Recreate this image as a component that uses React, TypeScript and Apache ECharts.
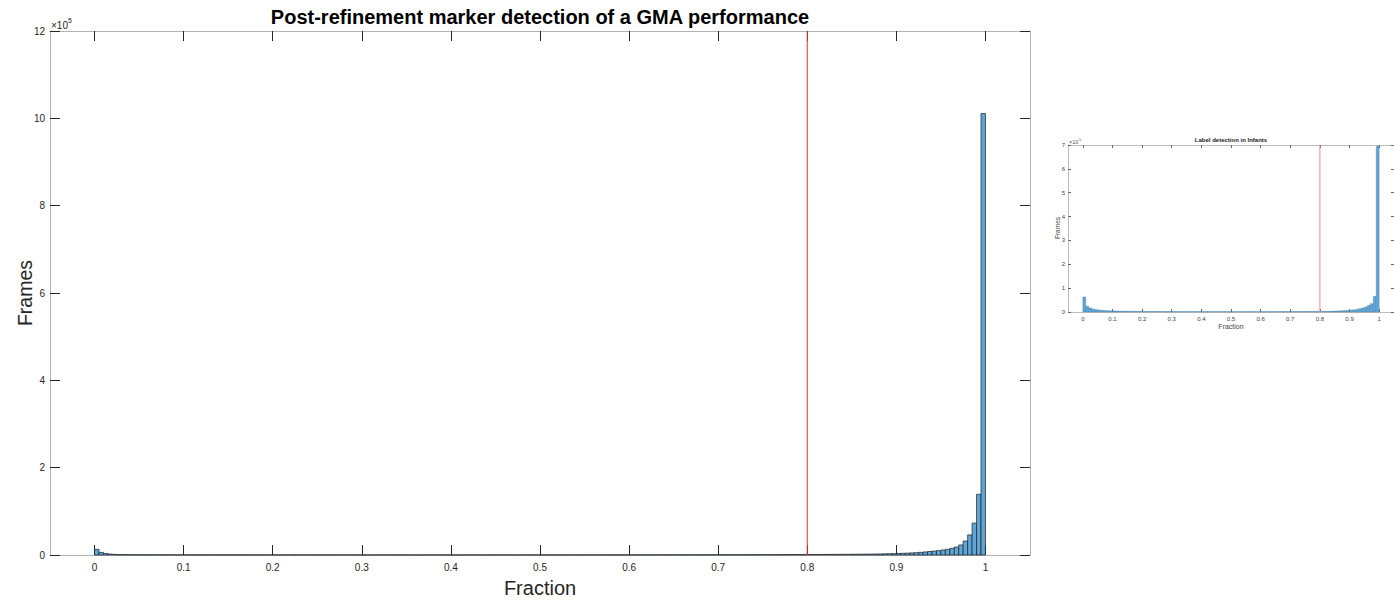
import React, { useEffect, useRef } from "react";
import * as echarts from "echarts";

const FONT = "Liberation Sans, Arial, Helvetica, sans-serif";

// Main histogram: 200 bins of width 0.005 from 0 to 1 (frame counts)
const MAIN_BIN_WIDTH = 0.005;
const MAIN_COUNTS = [
  13000, 6000, 3500, 2200, 1500, 1100, 900, 760, 660, 600,
  550, 520, 500, 480, 460, 450, 440, 430, 420, 410,
  400, 395, 390, 385, 380, 378, 375, 370, 368, 365,
  362, 360, 358, 355, 352, 350, 348, 346, 344, 342,
  340, 338, 336, 334, 333, 332, 330, 329, 328, 327,
  326, 325, 324, 323, 322, 321, 320, 320, 319, 318,
  318, 317, 316, 316, 315, 315, 314, 314, 313, 313,
  312, 312, 312, 311, 311, 311, 310, 310, 310, 310,
  310, 310, 311, 311, 311, 312, 312, 313, 313, 314,
  314, 315, 316, 317, 318, 319, 320, 321, 322, 323,
  325, 327, 329, 331, 333, 335, 337, 340, 343, 346,
  349, 352, 355, 359, 363, 367, 371, 376, 381, 386,
  391, 397, 403, 410, 417, 424, 432, 440, 449, 458,
  468, 478, 489, 500, 512, 525, 538, 552, 567, 582,
  598, 615, 633, 652, 672, 693, 715, 738, 762, 787,
  813, 840, 868, 897, 927, 958, 990, 1020, 1050, 1110,
  1150, 1190, 1230, 1280, 1330, 1380, 1440, 1500, 1570, 1640,
  1720, 1800, 1900, 2000, 2150, 2300, 2500, 2700, 2900, 3200,
  3500, 3900, 4300, 4800, 5400, 6100, 7000, 8000, 9000, 10000,
  11500, 13000, 15300, 18300, 23000, 32000, 46000, 73000, 139000, 1011000,
];

// Inset histogram: 100 bins of width 0.01 from 0 to 1
const INSET_BIN_WIDTH = 0.01;
const INSET_COUNTS = [
  63000, 24000, 17000, 12500, 10000, 8500, 7200, 6300, 5600, 5000,
  4600, 4200, 3900, 3600, 3400, 3200, 3000, 2850, 2700, 2600,
  2500, 2420, 2350, 2290, 2230, 2180, 2130, 2090, 2050, 2010,
  1980, 1950, 1920, 1900, 1880, 1860, 1840, 1820, 1810, 1800,
  1790, 1780, 1770, 1760, 1755, 1750, 1745, 1740, 1738, 1736,
  1735, 1736, 1738, 1740, 1745, 1750, 1760, 1770, 1780, 1800,
  1820, 1840, 1860, 1890, 1920, 1950, 1990, 2030, 2080, 2120,
  2150, 2180, 2210, 2250, 2290, 2330, 2380, 2430, 2490, 2550,
  2700, 2900, 3100, 3400, 3700, 4100, 4600, 5200, 5900, 6800,
  8000, 9000, 11000, 14000, 17000, 21000, 28000, 35000, 66000, 695000,
];

const X_TICKS = [0, 0.1, 0.2, 0.3, 0.4, 0.5, 0.6, 0.7, 0.8, 0.9, 1];
const THRESHOLD = 0.8;
const MAIN_YMAX = 1200000;
const INSET_YMAX = 700000;

const MAIN_TITLE = "Post-refinement marker detection of a GMA performance";
const INSET_TITLE = "Label detection in Infants";

const BAR_FILL = "#5ea5d8";

function histData(counts: number[], w: number) {
  return counts.map((c, i) => [i * w, (i + 1) * w, c]);
}

function makeRender(stroke: string, lw: number) {
  return (params: any, api: any) => {
    const x0 = api.value(0);
    const x1 = api.value(1);
    const v = api.value(2);
    const p0 = api.coord([x0, v]);
    const p1 = api.coord([x1, 0]);
    return {
      type: "rect",
      shape: { x: p0[0], y: p0[1], width: p1[0] - p0[0], height: p1[1] - p0[1] },
      style: { fill: BAR_FILL, stroke, lineWidth: lw },
    };
  };
}

export default function App() {
  const ref = useRef<HTMLDivElement>(null);

  useEffect(() => {
    document.body.style.margin = "0";
    if (!ref.current) return;
    const chart = echarts.init(ref.current, undefined, { renderer: "svg" });

    const axisX = (grid: number, pos: string, showLabel: boolean, small: boolean) => ({
      gridIndex: grid,
      type: "value",
      position: pos,
      min: -0.05,
      max: 1.05,
      axisLine: { show: true, onZero: false, lineStyle: { color: small ? "#bdbdbd" : "#b3b3b3", width: 1 } },
      axisTick: {
        show: true,
        inside: true,
        length: small ? 3 : 10,
        customValues: X_TICKS,
        lineStyle: { color: small ? "#666" : "#262626", width: 1 },
      },
      axisLabel: {
        show: showLabel,
        customValues: X_TICKS,
        fontSize: small ? 6 : 10,
        fontFamily: FONT,
        color: small ? "#444" : "#262626",
        margin: small ? 4 : 7,
      },
      splitLine: { show: false },
    });

    const axisY = (grid: number, pos: string, showLabel: boolean, small: boolean) => ({
      gridIndex: grid,
      type: "value",
      position: pos,
      min: 0,
      max: small ? INSET_YMAX : MAIN_YMAX,
      interval: small ? 100000 : 200000,
      axisLine: { show: true, onZero: false, lineStyle: { color: small ? "#bdbdbd" : "#b3b3b3", width: 1 } },
      axisTick: {
        show: true,
        inside: true,
        length: small ? 3 : 10,
        lineStyle: { color: small ? "#666" : "#262626", width: 1 },
      },
      axisLabel: {
        show: showLabel,
        fontSize: small ? 6 : 10,
        fontFamily: FONT,
        color: small ? "#444" : "#262626",
        margin: small ? 3 : 5,
        formatter: (v: number) => String(Math.round(v / 100000)),
      },
      splitLine: { show: false },
    });

    const text = (x: number, y: number, t: string, size: number, opts: any = {}) => ({
      type: "text",
      x,
      y,
      rotation: opts.rotation || 0,
      silent: true,
      style: {
        text: t,
        fontSize: size,
        fontFamily: FONT,
        fontWeight: opts.bold ? "bold" : "normal",
        fill: opts.color || "#000",
        align: opts.align || "center",
        verticalAlign: opts.vAlign || "middle",
        textAlign: opts.align || "center",
        textVerticalAlign: opts.vAlign || "middle",
      },
    });

    chart.setOption({
      animation: false,
      backgroundColor: "#ffffff",
      grid: [
        { left: 50, top: 31, width: 980, height: 524 },
        { left: 1068, top: 145, width: 327, height: 167 },
      ],
      xAxis: [
        axisX(0, "bottom", true, false),
        axisX(0, "top", false, false),
        axisX(1, "bottom", true, true),
        axisX(1, "top", false, true),
      ],
      yAxis: [
        axisY(0, "left", true, false),
        axisY(0, "right", false, false),
        axisY(1, "left", true, true),
        axisY(1, "right", false, true),
      ],
      series: [
        {
          type: "custom",
          xAxisIndex: 0,
          yAxisIndex: 0,
          renderItem: makeRender("#1f1f1f", 0.7),
          encode: { x: [0, 1], y: 2 },
          data: histData(MAIN_COUNTS, MAIN_BIN_WIDTH),
          z: 2,
        },
        {
          type: "line",
          xAxisIndex: 0,
          yAxisIndex: 0,
          data: [
            [THRESHOLD, 0],
            [THRESHOLD, MAIN_YMAX],
          ],
          symbol: "none",
          silent: true,
          lineStyle: { color: "#ff2a2a", width: 1 },
          z: 3,
        },
        {
          type: "custom",
          xAxisIndex: 2,
          yAxisIndex: 2,
          renderItem: makeRender("#3a6f96", 0.3),
          encode: { x: [0, 1], y: 2 },
          data: histData(INSET_COUNTS, INSET_BIN_WIDTH),
          z: 2,
        },
        {
          type: "line",
          xAxisIndex: 2,
          yAxisIndex: 2,
          data: [
            [THRESHOLD, 0],
            [THRESHOLD, INSET_YMAX],
          ],
          symbol: "none",
          silent: true,
          lineStyle: { color: "#ff8a8a", width: 1 },
          z: 3,
        },
      ],
      graphic: [
        text(540, 17, MAIN_TITLE, 20, { bold: true }),
        text(25, 293, "Frames", 19.5, { rotation: Math.PI / 2, color: "#262626" }),
        text(540, 588, "Fraction", 20, { color: "#262626" }),
        text(51, 25, "×10", 10, { align: "left", color: "#262626" }),
        text(68, 20, "5", 7, { align: "left", color: "#262626" }),
        text(1231, 140, INSET_TITLE, 6, { bold: true, color: "#222" }),
        text(1057, 228, "Frames", 6.5, { rotation: Math.PI / 2, color: "#444" }),
        text(1231, 326, "Fraction", 7, { color: "#444" }),
        text(1069, 142, "×10", 5.5, { align: "left", color: "#555" }),
        text(1079, 139, "5", 4, { align: "left", color: "#555" }),
      ],
    });

    return () => chart.dispose();
  }, []);

  return <div ref={ref} style={{ width: 1394, height: 601 }} />;
}
